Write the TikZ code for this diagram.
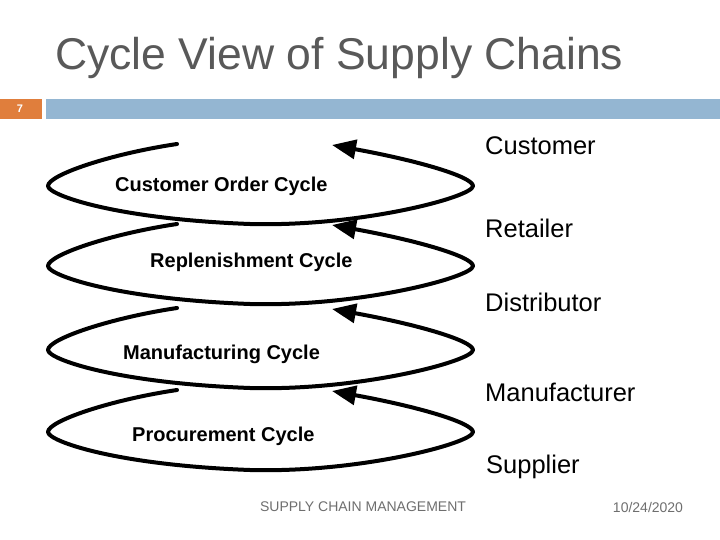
\documentclass[tikz,border=0pt]{standalone}
\usepackage{fontspec}
\setmainfont{Liberation Sans}
\usetikzlibrary{arrows.meta}
\definecolor{titlegray}{HTML}{595959}
\definecolor{footgray}{HTML}{6E6E6E}
\definecolor{barorange}{HTML}{E07E3C}
\definecolor{barblue}{HTML}{94B6D2}
\tikzset{
  cyc/.style={line width=4pt, line cap=round, line join=round, -{Triangle[length=24pt,width=19pt]}},
  cyclabel/.style={font=\fontsize{20}{24}\selectfont\bfseries, inner sep=0pt},
  stagelabel/.style={font=\fontsize{25.5}{30}\selectfont, anchor=west, inner sep=0pt},
  footer/.style={font=\fontsize{14}{16}\selectfont, text=footgray, inner sep=0pt}
}
\newcommand\cycleloop[1]{%
  \begin{scope}[shift={(0,#1)}]
    \draw[cyc] (177,-42) .. controls (110,-32) and (48,-11) .. (48,0)
      .. controls (48,9) and (115,33) .. (250,38)
      .. controls (360,41) and (473,11) .. (473,0)
      .. controls (473,-9) and (420,-25) .. (332,-41);
  \end{scope}}
\begin{document}
\begin{tikzpicture}[x=1pt,y=-1pt]
\useasboundingbox (0,0) rectangle (720,540);
\node[font=\fontsize{44.5}{52}\selectfont, text=titlegray, anchor=west, inner sep=0pt] (title) at (55,58) {Cycle View of Supply Chains};
\fill[barorange] (0,99) rectangle (42,119);
\fill[barblue] (46,99) rectangle (720,119);
\node[font=\fontsize{11}{12}\selectfont\bfseries, text=white, inner sep=0pt] (pnum) at (20,109) {7};
\cycleloop{186}
\cycleloop{266}
\cycleloop{350}
\cycleloop{432}
\node[cyclabel, anchor=west] (c1) at (115,186) {Customer Order Cycle};
\node[cyclabel, anchor=west] (c2) at (150,262) {Replenishment Cycle};
\node[cyclabel, anchor=west] (c3) at (123,354) {Manufacturing Cycle};
\node[cyclabel, anchor=west] (c4) at (132,436) {Procurement Cycle};
\node[stagelabel] (s1) at (485,146) {Customer};
\node[stagelabel] (s2) at (485,228) {Retailer};
\node[stagelabel] (s3) at (485,302) {Distributor};
\node[stagelabel] (s4) at (485,392) {Manufacturer};
\node[stagelabel] (s5) at (486,467) {Supplier};
\node[footer] (f1) at (363,507) {SUPPLY CHAIN MANAGEMENT};
\node[footer] (f2) at (648,507) {10/24/2020};
\end{tikzpicture}
\end{document}
